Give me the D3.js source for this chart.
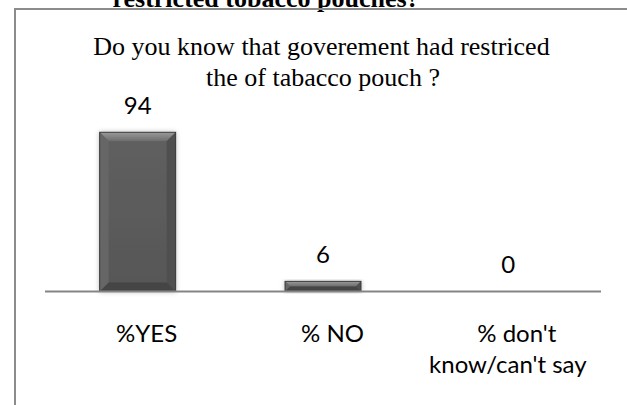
<!DOCTYPE html>
<html>
<head>
<meta charset="utf-8">
<script src="https://cdn.jsdelivr.net/npm/d3@7"></script>
<style>
  html, body { margin: 0; padding: 0; background: #ffffff; }
  svg { display: block; }
</style>
</head>
<body>
<svg id="chart" width="627" height="405"></svg>
<script>
// ---- data ----
const categories = ["%YES", "% NO", "% don't know/can't say"];
const categoryLines = [["%YES"], ["% NO"], ["% don't", "know/can't say"]];
const values = [94, 6, 0];
const titleLines = ["Do you know that goverement had restriced", "the of tabacco pouch ?"];
const captionText = "restricted tobacco pouches?";

// ---- layout ----
const W = 627, H = 405;
const svg = d3.select("#chart");

const baseY = 291.5;
const x = d3.scaleBand().domain(categories).range([45, 601]).paddingInner(0.59).paddingOuter(0.295);
const y = d3.scaleLinear().domain([0, 100]).range([baseY, 122.1]);

// shadow filter
const defs = svg.append("defs");
const f = defs.append("filter").attr("id", "shadow").attr("x", "-20%").attr("y", "-20%").attr("width", "140%").attr("height", "140%");
f.append("feGaussianBlur").attr("in", "SourceAlpha").attr("stdDeviation", 2.5).attr("result", "b");
f.append("feComponentTransfer").attr("in", "b").attr("result", "b2")
  .append("feFuncA").attr("type", "linear").attr("slope", 0.25);
const fm = f.append("feMerge");
fm.append("feMergeNode").attr("in", "b2");
fm.append("feMergeNode").attr("in", "SourceGraphic");

const topGrad = defs.append("linearGradient").attr("id", "topGrad").attr("x1", 0).attr("y1", 0).attr("x2", 0).attr("y2", 1);
topGrad.append("stop").attr("offset", "0%").attr("stop-color", "#9a9a9a");
topGrad.append("stop").attr("offset", "100%").attr("stop-color", "#6c6c6c");

const bodyGrad = defs.append("linearGradient").attr("id", "bodyGrad").attr("x1", 0).attr("y1", 0).attr("x2", 0).attr("y2", 1);
bodyGrad.append("stop").attr("offset", "0%").attr("stop-color", "#5f5f5f");
bodyGrad.append("stop").attr("offset", "100%").attr("stop-color", "#575757");

// caption clipped at top
svg.append("text")
  .attr("x", 266).attr("y", 7)
  .attr("text-anchor", "middle")
  .attr("font-family", "'Liberation Serif', 'Times New Roman', serif")
  .attr("font-weight", "bold")
  .attr("font-size", 26)
  .attr("fill", "#000")
  .text(captionText);

// frame (top and left borders)
svg.append("line").attr("x1", 14).attr("x2", W).attr("y1", 9).attr("y2", 9)
  .attr("stroke", "#8c8c8c").attr("stroke-width", 2);
svg.append("line").attr("x1", 15).attr("x2", 15).attr("y1", 8).attr("y2", H)
  .attr("stroke", "#8c8c8c").attr("stroke-width", 2);

// title
const titleX = [321.5, 323];
const titleY = [54.5, 86];
svg.append("g").selectAll("text").data(titleLines).join("text")
  .attr("x", (d, i) => titleX[i]).attr("y", (d, i) => titleY[i])
  .attr("text-anchor", "middle")
  .attr("font-family", "'Liberation Serif', 'Times New Roman', serif")
  .attr("font-size", 26)
  .attr("fill", "#000")
  .text(d => d);

// bars with bevel
const data = categories.map((c, i) => ({ c, v: values[i], lines: categoryLines[i] }));
const bars = svg.append("g");
data.forEach(d => {
  const x0 = x(d.c), x1 = x0 + x.bandwidth();
  const y0 = y(d.v), y1 = y(0);
  const h = y1 - y0;
  if (h <= 0.5) return;
  const b = Math.min(9, h / 2, x.bandwidth() / 2);
  const g = bars.append("g").attr("filter", "url(#shadow)");
  g.append("rect").attr("x", x0).attr("y", y0).attr("width", x1 - x0).attr("height", h)
    .attr("fill", "url(#bodyGrad)");
  const poly = (pts, fill) => g.append("polygon")
    .attr("points", pts.map(p => p.join(",")).join(" ")).attr("fill", fill);
  poly([[x0, y0], [x1, y0], [x1 - b, y0 + b], [x0 + b, y0 + b]], "url(#topGrad)");
  poly([[x0, y0], [x0 + b, y0 + b], [x0 + b, y1 - b], [x0, y1]], "#666666");
  poly([[x1, y0], [x1 - b, y0 + b], [x1 - b, y1 - b], [x1, y1]], "#4f4f4f");
  poly([[x0, y1], [x1, y1], [x1 - b, y1 - b], [x0 + b, y1 - b]], "#454545");
  g.append("rect").attr("x", x0).attr("y", y0).attr("width", x1 - x0).attr("height", h)
    .attr("fill", "none").attr("stroke", "#3c3c3c").attr("stroke-width", 1);
});

// baseline axis
svg.append("line").attr("x1", x.range()[0]).attr("x2", x.range()[1])
  .attr("y1", baseY).attr("y2", baseY)
  .attr("stroke", "#858585").attr("stroke-width", 2);

// value labels
const sansFont = "Lato, 'Noto Sans', sans-serif";
svg.append("g").selectAll("text").data(data).join("text")
  .attr("x", d => x(d.c) + x.bandwidth() / 2)
  .attr("y", d => y(d.v) - 18.5)
  .attr("text-anchor", "middle")
  .attr("font-family", sansFont)
  .attr("font-size", 24)
  .attr("fill", "#000")
  .text(d => d.v);

// category labels
const lineDx = [[9], [9.5], [8.5, -0.5]];
data.forEach((d, i) => {
  const cx = x(d.c) + x.bandwidth() / 2;
  const t = svg.append("text")
    .attr("text-anchor", "middle")
    .attr("font-family", sansFont)
    .attr("font-size", 24)
    .attr("fill", "#000");
  d.lines.forEach((ln, j) => {
    t.append("tspan").attr("x", cx + lineDx[i][j]).attr("y", 342 + j * 31).text(ln);
  });
});
</script>
</body>
</html>
